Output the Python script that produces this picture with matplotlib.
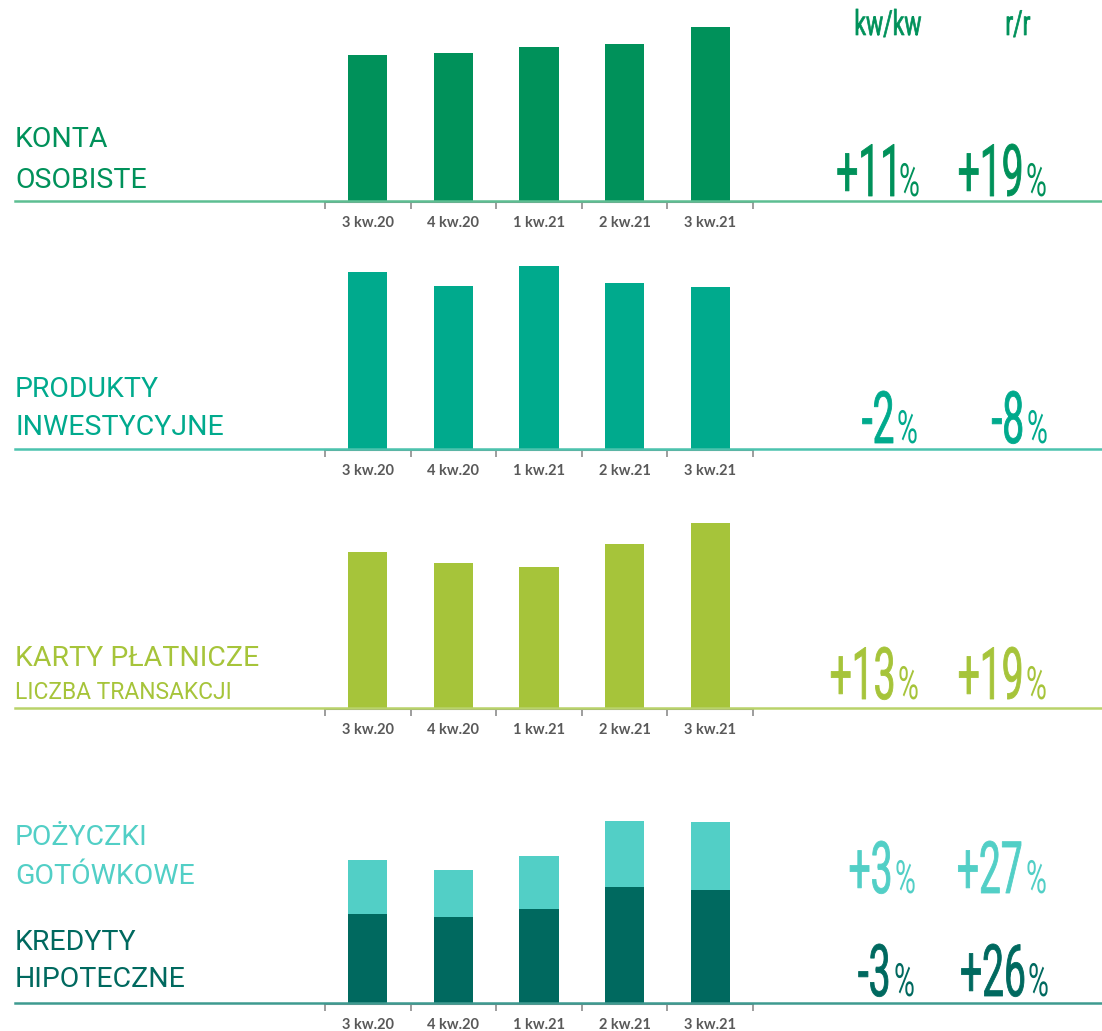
import matplotlib.pyplot as plt
from matplotlib.lines import Line2D
from matplotlib.patheffects import AbstractPathEffect
from matplotlib.transforms import Affine2D

# dane (jednostki umowne)
kwartaly = ['3 kw.20', '4 kw.20', '1 kw.21', '2 kw.21', '3 kw.21']
konta_osobiste = [147, 149, 155, 158, 175]
produkty_inwestycyjne = [178, 164, 184, 167, 163]
karty_transakcje = [157, 146, 142, 165, 186]
kredyty_hipoteczne = [90, 87, 95, 117, 114]
pozyczki_gotowkowe = [54, 47, 53, 66, 68]

zmiana_kwkw = ['+11', '-2', '+13', '+3', '-3']
zmiana_rr = ['+19', '-8', '+19', '+27', '+26']

ZIELONY = '#00915A'
TURKUS = '#00AA8D'
LIMONKA = '#A6C43A'
JASNY_TURKUS = '#52CFC6'
CIEMNY = '#00695F'
SZARY = '#595959'

W, H = 1102, 1031
fig = plt.figure(figsize=(W / 100, H / 100), dpi=100)


class Wysoki(AbstractPathEffect):
    # rozciaga tekst w pionie (imitacja fontu "condensed", ktorego brak w systemie)
    # x_right: prawa krawedz rysunku tekstu (ulamek szerokosci figury)
    def __init__(self, sy, anchor='left', lw=0, x_right=None):
        super().__init__()
        self.sy = sy
        self.anchor = anchor
        self.lw = lw
        self.x_right = x_right

    def draw_path(self, renderer, gc, tpath, affine, rgbFace=None):
        ext = tpath.get_extents()
        if self.x_right is not None:
            m = affine.get_matrix()
            xt = fig.transFigure.transform((self.x_right, 0))[0]
            t = Affine2D().translate(-ext.x1, 0).scale(m[0, 0], m[1, 1] * self.sy).translate(xt, m[1, 2])
        else:
            t = Affine2D().scale(1, self.sy) + affine
        gc0 = renderer.new_gc()
        gc0.copy_properties(gc)
        if self.lw:
            gc0.set_linewidth(self.lw)
            gc0.set_foreground(rgbFace)
            gc0.set_joinstyle('round')
        renderer.draw_path(gc0, tpath, t, rgbFace)
        gc0.restore()


def fx(px):
    return px / W


def fy(py):
    return 1 - py / H


def panel(top, base, line_color):
    ax = fig.add_axes([fx(325), fy(base), fx(753) - fx(325), (base - top) / H])
    ax.set_xlim(-0.5, 4.5)
    ax.set_ylim(0, base - top)
    for s in ['top', 'left', 'right']:
        ax.spines[s].set_visible(False)
    ax.spines['bottom'].set_color('#8c8c8c')
    ax.spines['bottom'].set_linewidth(1.5)
    ax.set_yticks([])
    ax.set_xticks(range(len(kwartaly)))
    ax.set_xticklabels(kwartaly, fontfamily='Lato', fontweight='bold',
                       fontsize=10.5, color=SZARY)
    ax.tick_params(axis='x', which='major', length=0, pad=10)
    ax.set_xticks([i - 0.5 for i in range(len(kwartaly) + 1)], minor=True)
    ax.tick_params(axis='x', which='minor', length=5, width=1.2, color='#8c8c8c')
    fig.add_artist(Line2D([fx(15), 1], [fy(base - 1), fy(base - 1)],
                          transform=fig.transFigure, color=line_color, lw=1.8))
    return ax


def label(lines, color):
    for txt, y, size in lines:
        fig.text(fx(15), fy(y), txt, fontfamily='Roboto', fontsize=size,
                 color=color, va='baseline', ha='left')


def procent(x_num, x_pct, y, val, color):
    # x_num = prawa krawedz liczby, x_pct = lewa krawedz znaku %
    fig.text(fx(x_num), fy(y), val, fontfamily='Roboto',
             fontsize=28, color=color, ha='right', va='baseline',
             path_effects=[Wysoki(52 / 28, lw=0.6, x_right=fx(x_num))])
    fig.text(fx(x_pct), fy(y), '%', fontfamily='Roboto',
             fontsize=20.5, color=color, ha='left', va='baseline',
             path_effects=[Wysoki(33 / 20.5)])


# naglowki kolumn
fig.text(fx(888), fy(35), 'kw/kw', fontfamily='Roboto', fontsize=16.5,
         color=ZIELONY, ha='center', va='baseline',
         path_effects=[Wysoki(25 / 16.5, lw=0.5)])
fig.text(fx(1018), fy(35), 'r/r', fontfamily='Roboto', fontsize=16.5,
         color=ZIELONY, ha='center', va='baseline',
         path_effects=[Wysoki(25 / 16.5, lw=0.5)])

x = range(len(kwartaly))
bw = 0.46

# 1. konta osobiste
ax1 = panel(0, 202, '#5DBE92')
ax1.bar(x, konta_osobiste, width=bw, color=ZIELONY)
label([('KONTA', 147, 20.5), ('OSOBISTE', 188, 20.5)], ZIELONY)
procent(894, 899, 196, zmiana_kwkw[0], ZIELONY)
procent(1021, 1026, 196, zmiana_rr[0], ZIELONY)

# 2. produkty inwestycyjne
ax2 = panel(230, 450, '#4CC3AE')
ax2.bar(x, produkty_inwestycyjne, width=bw, color=TURKUS)
label([('PRODUKTY', 397, 20.5), ('INWESTYCYJNE', 435, 20.5)], TURKUS)
procent(893, 897, 443, zmiana_kwkw[1], TURKUS)
procent(1022, 1027, 443, zmiana_rr[1], TURKUS)

# 3. karty platnicze
ax3 = panel(480, 709, '#B9D36A')
ax3.bar(x, karty_transakcje, width=bw, color=LIMONKA)
label([('KARTY PŁATNICZE', 666, 20.5), ('LICZBA TRANSAKCJI', 699, 16.5)], LIMONKA)
procent(893, 898, 699, zmiana_kwkw[2], LIMONKA)
procent(1021, 1026, 699, zmiana_rr[2], LIMONKA)

# 4. pozyczki + kredyty hipoteczne
ax4 = panel(780, 1004, '#3E9A90')
ax4.bar(x, kredyty_hipoteczne, width=bw, color=CIEMNY)
ax4.bar(x, pozyczki_gotowkowe, width=bw, bottom=kredyty_hipoteczne, color=JASNY_TURKUS)
label([('POŻYCZKI', 845, 20.5), ('GOTÓWKOWE', 884, 20.5)], JASNY_TURKUS)
label([('KREDYTY', 950, 20.5), ('HIPOTECZNE', 987, 20.5)], CIEMNY)
procent(890, 895, 893, zmiana_kwkw[3], JASNY_TURKUS)
procent(1021, 1026, 893, zmiana_rr[3], JASNY_TURKUS)
procent(888, 894, 996, zmiana_kwkw[4], CIEMNY)
procent(1024, 1028, 996, zmiana_rr[4], CIEMNY)

plt.savefig('out.png', dpi=100)
